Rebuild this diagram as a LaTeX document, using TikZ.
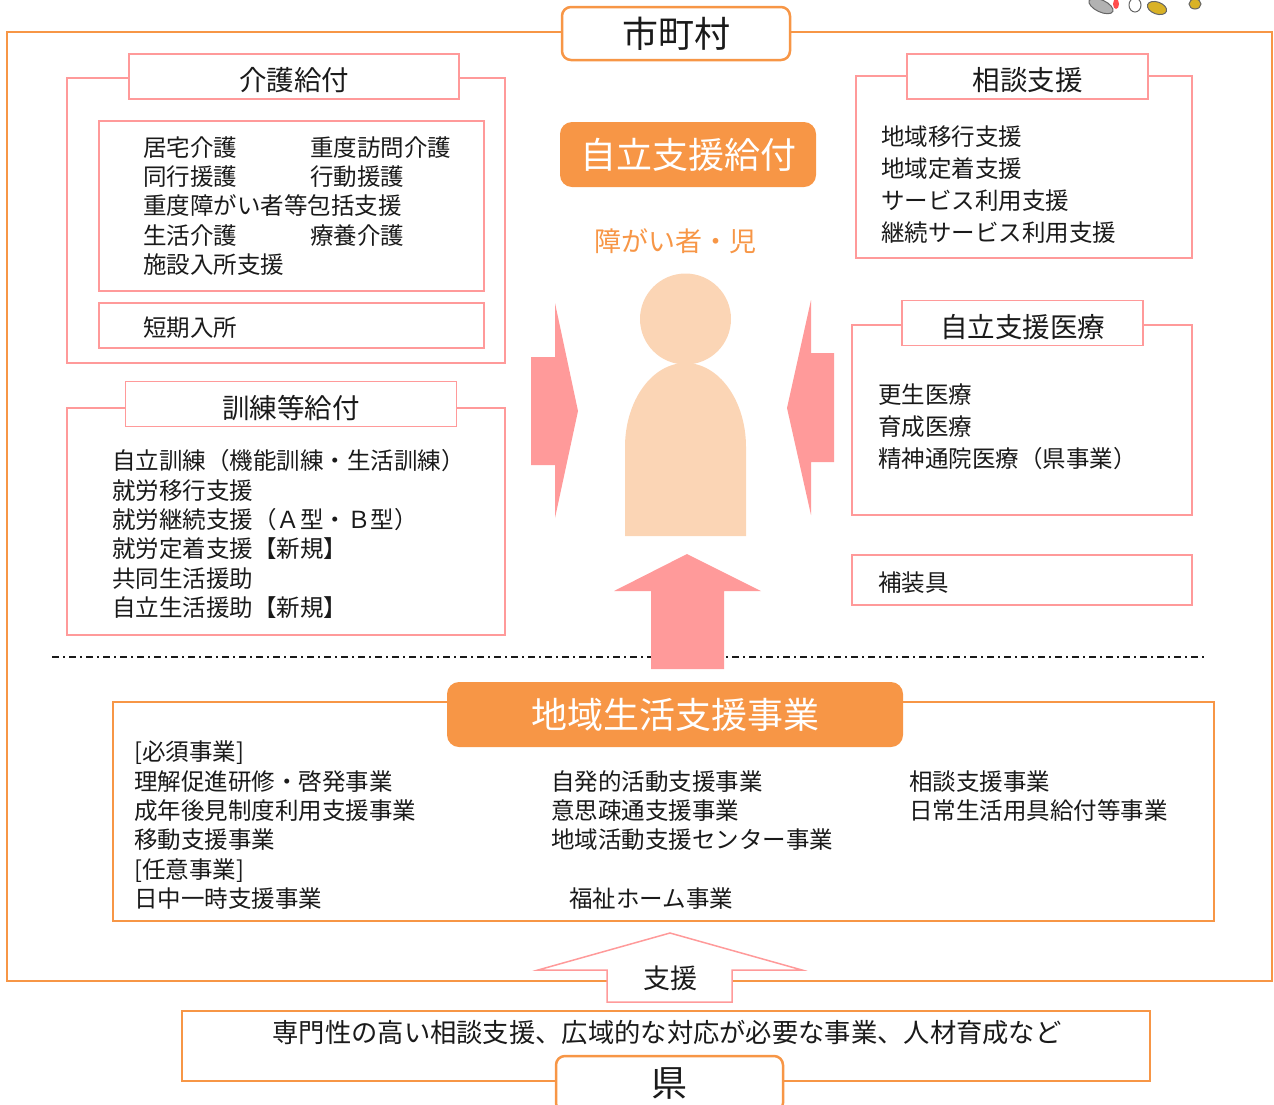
\documentclass[tikz,border=0pt]{standalone}
\usepackage{fontspec}
\setmainfont{Noto Sans CJK JP}
\usepackage{xcolor}
\usetikzlibrary{positioning}
\definecolor{shiorange}{HTML}{F79646}
\definecolor{shipink}{HTML}{FF9A9A}
\definecolor{skin}{HTML}{FBD5B5}
\definecolor{ink}{HTML}{1A1A1A}
\tikzstyle{frame} = [draw=shiorange, line width=2.5pt]
\tikzstyle{pinkline} = [draw=shipink, line width=1.5pt]
\tikzstyle{tab} = [draw=shipink, line width=1.5pt, fill=white, inner sep=0pt, text height=28pt, text depth=0pt, text=ink, font=\fontsize{27.5}{30}\selectfont]
\tikzstyle{item} = [anchor=base west, inner sep=0pt, text=ink, font=\fontsize{23.5}{28}\selectfont]
\tikzstyle{badge} = [fill=shiorange, rounded corners=12pt, inner sep=0pt, text=white, font=\fontsize{36}{40}\selectfont]
\tikzstyle{place} = [draw=shiorange, line width=2.5pt, fill=white, rounded corners=9pt, inner sep=0pt, text=ink, font=\fontsize{36}{40}\selectfont]

\begin{document}
\begin{tikzpicture}[x=1pt,y=-1pt]
\useasboundingbox (0,0) rectangle (1274,1104);

% feet at the top edge
\filldraw[fill=gray!60, draw=black!60, line width=1pt] (1101,6) ellipse [x radius=13pt, y radius=6pt, rotate=-25];
\fill[red!70] (1116,4) ellipse [x radius=3pt, y radius=5pt];
\filldraw[fill=white, draw=black!60, line width=1pt] (1135,5) ellipse [x radius=6pt, y radius=7pt];
\filldraw[fill=brown!60!yellow, draw=black!60, line width=1pt] (1157,8) ellipse [x radius=10pt, y radius=6pt, rotate=-20];
\filldraw[fill=brown!60!yellow, draw=black!60, line width=1pt] (1195,4) ellipse [x radius=6pt, y radius=5pt];

% 市町村
\draw[frame] (7,32) rectangle (1272,981);
\node[place, minimum width=228pt, minimum height=53pt] (shi) at (676,33.5) {市町村};

% 介護給付
\draw[pinkline] (67,78) rectangle (505,363);
\draw[pinkline] (99,121) rectangle (484,291);
\draw[pinkline] (99,303) rectangle (484,348);
\node[tab, minimum width=330pt, minimum height=45pt] (kaigo) at (294,76.5) {介護給付};
\node[item] (k1) at (143,156) {居宅介護};
\node[item] (k2) at (310,156) {重度訪問介護};
\node[item] (k3) at (143,185) {同行援護};
\node[item] (k4) at (310,185) {行動援護};
\node[item] (k5) at (143,214) {重度障がい者等包括支援};
\node[item] (k6) at (143,244) {生活介護};
\node[item] (k7) at (310,244) {療養介護};
\node[item] (k8) at (143,273) {施設入所支援};
\node[item] (k9) at (143,336) {短期入所};

% 訓練等給付
\draw[pinkline] (67,408) rectangle (505,635);
\node[tab, minimum width=331pt, minimum height=45pt] (kunren) at (291,404) {訓練等給付};
\node[item] (t1) at (112,469) {自立訓練（機能訓練・生活訓練）};
\node[item] (t2) at (112,499) {就労移行支援};
\node[item] (t3) at (112,528) {就労継続支援（Ａ型・Ｂ型）};
\node[item] (t4) at (112,557) {就労定着支援【新規】};
\node[item] (t5) at (112,587) {共同生活援助};
\node[item] (t6) at (112,616) {自立生活援助【新規】};

% 相談支援
\draw[pinkline] (856,76) rectangle (1192,258);
\node[tab, minimum width=241pt, minimum height=45pt] (soudan) at (1027.5,76.5) {相談支援};
\node[item] (s1) at (881,145) {地域移行支援};
\node[item] (s2) at (881,177) {地域定着支援};
\node[item] (s3) at (881,209) {サービス利用支援};
\node[item] (s4) at (881,241) {継続サービス利用支援};

% 自立支援医療
\draw[pinkline] (852,325) rectangle (1192,515);
\node[tab, minimum width=241pt, minimum height=45pt] (iryou) at (1022.5,323) {自立支援医療};
\node[item] (m1) at (878,403) {更生医療};
\node[item] (m2) at (878,435) {育成医療};
\node[item] (m3) at (878,467) {精神通院医療（県事業）};

% 補装具
\draw[pinkline] (852,555) rectangle (1192,605);
\node[item] (hosougu) at (878,591.5) {補装具};

% 自立支援給付 and the person
\node[badge, minimum width=256pt, minimum height=65pt] (kyufu) at (688,154.5) {\raisebox{-2pt}{自立支援給付}};
\node[text=shiorange, inner sep=0pt, font=\fontsize{27}{30}\selectfont] (sha) at (675,241) {障がい者・児};
\fill[skin] (685.5,319) circle (45.5pt);
\fill[skin] (625,536) -- (625,447) arc[start angle=180, end angle=0, x radius=60.5pt, y radius=84pt] -- (746,536) -- cycle;

% arrows toward the person
\fill[shipink] (531,357) -- (555,357) -- (555,303) -- (578,411) -- (555,518) -- (555,465) -- (531,465) -- cycle;
\fill[shipink] (834,353) -- (811,353) -- (811,300) -- (787,408) -- (811,515) -- (811,462) -- (834,462) -- cycle;

% 市町村 / 地域 split
\draw[ink, line width=1.3pt, dash pattern=on 7pt off 4pt on 2pt off 4pt] (52,657) -- (1205,657);
\fill[shipink] (651,669) -- (651,591) -- (614,591) -- (687,554) -- (761,591) -- (724,591) -- (724,669) -- cycle;

% 地域生活支援事業
\draw[draw=shiorange, line width=2pt] (113,702) rectangle (1214,921);
\node[badge, minimum width=456pt, minimum height=65pt] (chiiki) at (675,714.5) {地域生活支援事業};
\node[item] (c1) at (134,760) {[必須事業]};
\node[item] (c2) at (134,790) {理解促進研修・啓発事業};
\node[item] (c3) at (134,819) {成年後見制度利用支援事業};
\node[item] (c4) at (134,848) {移動支援事業};
\node[item] (c5) at (134,878) {[任意事業]};
\node[item] (c6) at (134,907) {日中一時支援事業};
\node[item] (c7) at (551,790) {自発的活動支援事業};
\node[item] (c8) at (551,819) {意思疎通支援事業};
\node[item] (c9) at (551,848) {地域活動支援センター事業};
\node[item] (c10) at (569,907) {福祉ホーム事業};
\node[item] (c11) at (909,790) {相談支援事業};
\node[item] (c12) at (909,819) {日常生活用具給付等事業};

% 県 supports
\draw[pinkline, fill=white] (607,1002) -- (607,970) -- (538,970) -- (670,933) -- (802,970) -- (732,970) -- (732,1002) -- cycle;
\node[inner sep=0pt, text=ink, font=\fontsize{27}{30}\selectfont] (shien) at (670,978) {支援};
\draw[draw=shiorange, line width=2pt] (182,1011) rectangle (1150,1081);
\node[inner sep=0pt, text=ink, font=\fontsize{26.3}{28}\selectfont] (ken-text) at (667,1033) {専門性の高い相談支援、広域的な対応が必要な事業、人材育成など};
\node[place, minimum width=227pt, minimum height=56pt] (ken) at (669.5,1084) {県};
\end{tikzpicture}
\end{document}
